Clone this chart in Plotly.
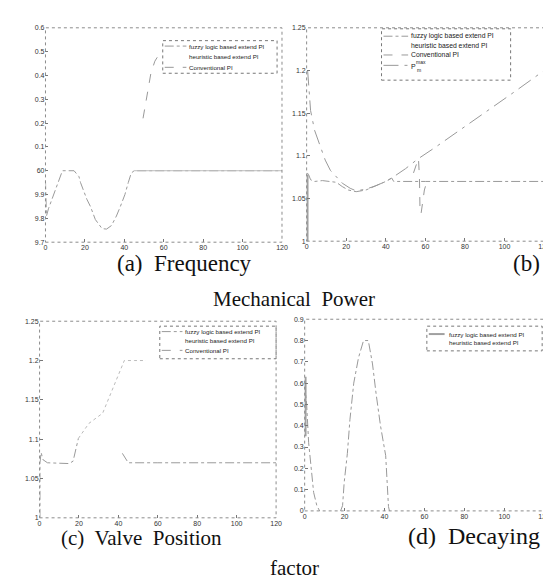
import plotly.graph_objects as go

W, H = 551, 580

# ---------------- data ----------------
time_tick_vals = [0, 20, 40, 60, 80, 100, 120]
time_tick_text = ["0", "20", "40", "60", "80", "100", "120"]

# (a) Frequency
freq_tick_vals = [59.7, 59.8, 59.9, 60.0, 60.1, 60.2, 60.3, 60.4, 60.5, 60.6]
freq_tick_text = ["9.7", "9.8", "9.9", "60", "0.1", "0.2", "0.3", "0.4", "0.5", "0.6"]
freq_fuzzy_t = [0, 0.2, 0.5, 1.5, 2.8, 5.3, 8.6, 14.5, 17, 17.8, 21, 22.8, 25.3, 28.7, 31,
                33.5, 36, 38, 40.3, 42, 43.5, 45, 60, 80, 100, 120]
freq_fuzzy_y = [59.96, 59.88, 59.81, 59.84, 59.87, 59.93, 60.0, 60.0, 59.975, 59.95, 59.88,
                59.85, 59.795, 59.757, 59.755, 59.77, 59.81, 59.85, 59.9, 59.95, 59.99, 60.0,
                60.0, 60.0, 60.0, 60.0]
freq_heur_t = [45, 60, 80, 100, 120]
freq_heur_y = [60.0, 60.0, 60.0, 60.0, 60.0]
freq_conv_t = [49.5, 51, 52, 53.5, 55.5, 58.5]
freq_conv_y = [60.22, 60.29, 60.33, 60.41, 60.46, 60.5]

# (b) Mechanical power
pow_tick_vals = [1.0, 1.05, 1.1, 1.15, 1.2, 1.25]
pow_tick_text = ["1", "1.05", "1.1", "1.15", "1.2", "1.25"]
pow_fuzzy_t = [0.3, 1, 2, 4, 8, 12, 15, 18, 21, 25, 30, 35, 40, 43, 44, 60, 80, 100, 120]
pow_fuzzy_y = [1.08, 1.078, 1.072, 1.07, 1.071, 1.07, 1.069, 1.064, 1.06, 1.058, 1.06, 1.065,
               1.07, 1.074, 1.07, 1.07, 1.07, 1.07, 1.07]
pow_heur_t = [0.2, 0.2]
pow_heur_y = [1.0, 1.078]
pow_conv_t = [54, 56.5, 57, 57.3, 57.8, 58.5, 59.5, 60.5, 63]
pow_conv_y = [1.08, 1.097, 1.075, 1.035, 1.032, 1.045, 1.06, 1.068, 1.07]
pmax_t = [0.5, 1, 2, 4, 6, 9.4, 12, 15, 18, 22, 25, 30, 35, 40, 43, 50, 56, 65, 75, 85, 95,
          105, 120]
pmax_y = [1.2, 1.18, 1.153, 1.13, 1.116, 1.095, 1.083, 1.075, 1.068, 1.062, 1.059, 1.061,
          1.065, 1.07, 1.074, 1.085, 1.096, 1.11, 1.126, 1.142, 1.159, 1.175, 1.2]

# (c) Valve position
valve_tick_vals = [1.0, 1.05, 1.1, 1.15, 1.2, 1.25]
valve_tick_text = ["1", "1.05", "1.1", "1.15", "1.2", "1.25"]
valve_fuzzy_t = [0.2, 0.2, 0.8, 1.7, 4, 10, 15, 17, 18.5, 19.7, None, 42, 43, 45, 60, 80, 100, 120]
valve_fuzzy_y = [1.0, 1.07, 1.083, 1.074, 1.07, 1.069, 1.069, 1.072, 1.09, 1.101, None, 1.082,
                 1.078, 1.07, 1.07, 1.07, 1.07, 1.07]
valve_conv_t = [19.7, 25, 32, 38, 43, 48, 54]
valve_conv_y = [1.101, 1.12, 1.133, 1.17, 1.2, 1.2, 1.2]

# (d) Decaying factor
dec_tick_vals = [0, 0.1, 0.2, 0.3, 0.4, 0.5, 0.6, 0.7, 0.8, 0.9]
dec_tick_text = ["0", "0.1", "0.2", "0.3", "0.4", "0.5", "0.6", "0.7", "0.8", "0.9"]
dec_fuzzy_t = [0.2, 0.2]
dec_fuzzy_y = [0.35, 0.63]
dec_heur_t = [0, 1, 2, 2.9, 4.5, 6.1, 7.5, None, 18, 19, 19.8, 21.4, 22.7, 24.6, 27, 29.5,
              31.9, 34, 35.8, 38, 40.6, 42, 42.5]
dec_heur_y = [0.6, 0.5, 0.32, 0.225, 0.087, 0.025, 0.0, None, 0.0, 0.025, 0.133, 0.27, 0.43,
              0.6, 0.72, 0.8, 0.8, 0.69, 0.55, 0.4, 0.26, 0.02, 0.0]

legend_labels = ["fuzzy logic based extend PI", "heuristic based extend PI", "Conventional PI"]

# ---------------- styles ----------------
STY = {
    "fuzzy": dict(color="#9a9a9a", width=1, dash="dashdot"),
    "heur": dict(color="#bdbdbd", width=1, dash="solid"),
    "conv": dict(color="#999999", width=1, dash="dash"),
    "pmax": dict(color="#999999", width=1, dash="longdashdot"),
    "dfuzzy": dict(color="#a0a0a0", width=3, dash="solid"),
    "dheur": dict(color="#999999", width=1, dash="dashdot"),
    "vconv": dict(color="#bbbbbb", width=1, dash="dot"),
}

fig = go.Figure()


def add(t, y, style, ax):
    xa = "x" if ax == 1 else f"x{ax}"
    ya = "y" if ax == 1 else f"y{ax}"
    fig.add_trace(go.Scatter(x=t, y=y, mode="lines", line=STY[style], xaxis=xa, yaxis=ya,
                             showlegend=False, connectgaps=False, hoverinfo="skip"))


add(freq_fuzzy_t, freq_fuzzy_y, "fuzzy", 1)
add(freq_heur_t, freq_heur_y, "heur", 1)
add(freq_conv_t, freq_conv_y, "conv", 1)

add(pow_heur_t, pow_heur_y, "dfuzzy", 2)
add(pow_fuzzy_t, pow_fuzzy_y, "fuzzy", 2)
add(pow_conv_t, pow_conv_y, "conv", 2)
add(pmax_t, pmax_y, "pmax", 2)

add(valve_fuzzy_t, valve_fuzzy_y, "fuzzy", 3)
add(valve_conv_t, valve_conv_y, "vconv", 3)

add(dec_fuzzy_t, dec_fuzzy_y, "dfuzzy", 4)
add(dec_heur_t, dec_heur_y, "dheur", 4)


def px(x):
    return x / W


def py(y):
    return 1 - y / H


tickfont = dict(family="Liberation Sans, Arial", size=7, color="#333")


def axis_common(dom, rng, vals, text):
    return dict(domain=dom, range=rng, tickvals=vals, ticktext=text, showgrid=False,
                zeroline=False, showline=False, ticks="inside", ticklen=3, tickwidth=1,
                tickcolor="#777", tickfont=tickfont, fixedrange=True)


panels = {
    1: ((36, 276), (16, 233), [59.7, 60.6], freq_tick_vals, freq_tick_text),
    2: ((301, 542), (16, 232), [1.0, 1.25], pow_tick_vals, pow_tick_text),
    3: ((30, 270), (313, 512), [1.0, 1.25], valve_tick_vals, valve_tick_text),
    4: ((299, 542), (311, 505), [0, 0.9], dec_tick_vals, dec_tick_text),
}

layout_axes = {}
shapes = []
for k, (xr, yr, yrange, yv, yt) in panels.items():
    xs = "xaxis" if k == 1 else f"xaxis{k}"
    ys = "yaxis" if k == 1 else f"yaxis{k}"
    xa = axis_common([px(xr[0]), px(xr[1])], [0, 120], time_tick_vals, time_tick_text)
    xa["anchor"] = "y" if k == 1 else f"y{k}"
    ya = axis_common([py(yr[1]), py(yr[0])], yrange, yv, yt)
    ya["anchor"] = "x" if k == 1 else f"x{k}"
    layout_axes[xs] = xa
    layout_axes[ys] = ya
    shapes.append(dict(type="rect", xref="paper", yref="paper",
                       x0=px(xr[0]), x1=px(xr[1]), y0=py(yr[1]), y1=py(yr[0]),
                       line=dict(color="#8c8c8c", width=1, dash="dot")))

annotations = []
legfont = dict(family="Liberation Sans, Arial", size=6.2, color="#222")


def legend(box, rows, xs0, xs1, xt, fsize=6.2):
    x0, y0, x1, y1 = box
    shapes.append(dict(type="rect", xref="paper", yref="paper", x0=px(x0), x1=px(x1),
                       y0=py(y1), y1=py(y0), line=dict(color="#777", width=1, dash="dot")))
    for label, style, yy in rows:
        if style is not None:
            st = dict(STY[style])
            st["width"] = min(st["width"], 2)
            shapes.append(dict(type="line", xref="paper", yref="paper", x0=px(xs0), x1=px(xs1),
                               y0=py(yy), y1=py(yy), line=st))
        if label:
            annotations.append(dict(text=label, xref="paper", yref="paper", x=px(xt), y=py(yy),
                                    xanchor="left", yanchor="middle", showarrow=False,
                                    borderpad=0, font=dict(legfont, size=fsize)))


legend((155, 29, 271, 62),
       [(legend_labels[0], "fuzzy", 34.5), (legend_labels[1], None, 45.5),
        (legend_labels[2], "conv", 56)], 157, 179, 181)
legend((377, 17, 508, 69),
       [(legend_labels[0], "fuzzy", 24.5), (legend_labels[1], None, 34),
        (legend_labels[2], "conv", 43.5), ("", "pmax", 54)], 379, 404, 406, 6.8)
annotations.append(dict(text="P", xref="paper", yref="paper", x=px(406), y=py(55),
                        xanchor="left", yanchor="middle", showarrow=False, borderpad=0,
                        font=dict(legfont, size=7)))
annotations.append(dict(text="max", xref="paper", yref="paper", x=px(411), y=py(51),
                        xanchor="left", yanchor="middle", showarrow=False, borderpad=0,
                        font=dict(legfont, size=5)))
annotations.append(dict(text="m", xref="paper", yref="paper", x=px(412), y=py(59),
                        xanchor="left", yanchor="middle", showarrow=False, borderpad=0,
                        font=dict(legfont, size=5)))
legend((152, 318, 270, 351),
       [(legend_labels[0], "fuzzy", 323.5), (legend_labels[1], None, 333),
        (legend_labels[2], "conv", 342.5)], 154, 175, 177)
legend((423, 318, 540, 343),
       [(legend_labels[0], "dfuzzy", 326), (legend_labels[1], None, 335)], 425, 441, 444)

capfont = dict(family="Liberation Serif, Times New Roman", size=21, color="#111")
captions = [
    ("(a)  Frequency", 108, 255, 23),
    ("(b)", 509, 255, 23),
    ("Mechanical  Power", 205, 291, 21),
    ("(c)  Valve  Position", 51, 532, 21),
    ("(d)  Decaying", 403, 530, 24),
    ("factor", 263, 563, 21),
]
for txt, x, y, fs in captions:
    annotations.append(dict(text=txt, xref="paper", yref="paper", x=px(x), y=py(y),
                            xanchor="left", yanchor="middle", showarrow=False, borderpad=0,
                            font=dict(capfont, size=fs)))

fig.update_layout(width=W, height=H, margin=dict(l=0, r=0, t=0, b=0),
                  paper_bgcolor="white", plot_bgcolor="white", showlegend=False,
                  shapes=shapes, annotations=annotations, **layout_axes)

fig.write_html("out.html")
